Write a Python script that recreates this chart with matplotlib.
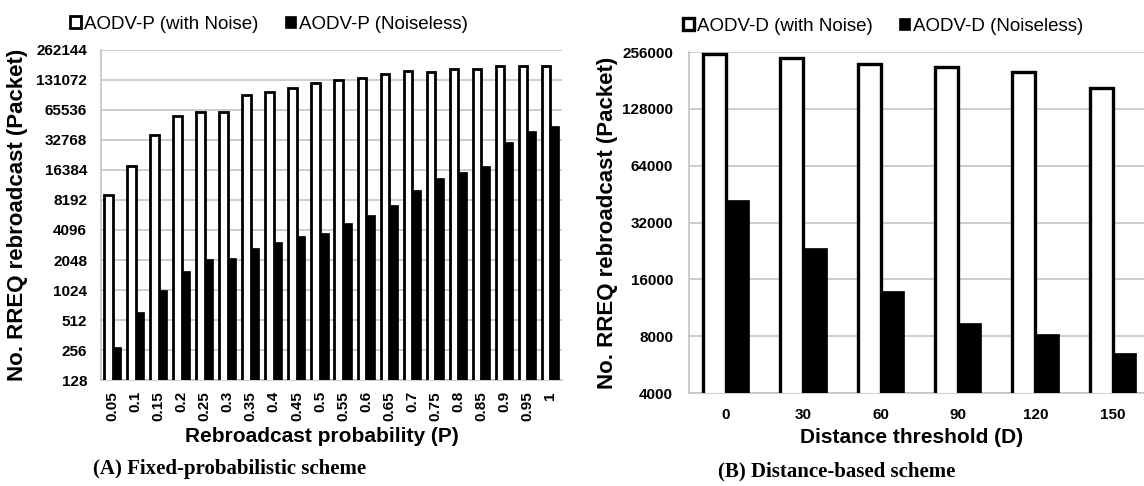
import numpy as np
import matplotlib
matplotlib.use('Agg')
import matplotlib.pyplot as plt
from matplotlib.ticker import FixedLocator, FixedFormatter, NullLocator

plt.rcParams['font.family'] = ['Liberation Sans', 'DejaVu Sans']

# panel A: fixed-probabilistic scheme
probs = ['0.05', '0.1', '0.15', '0.2', '0.25', '0.3', '0.35', '0.4', '0.45', '0.5',
         '0.55', '0.6', '0.65', '0.7', '0.75', '0.8', '0.85', '0.9', '0.95', '1']
p_noise = [9200, 18000, 36800, 56600, 62800, 62800, 92700, 98700, 109000, 122000,
           130000, 137000, 150000, 160000, 158000, 170000, 169000, 180000, 181000, 181000]
p_clean = [272, 612, 1024, 1575, 2090, 2160, 2700, 3130, 3540, 3820,
           4810, 5790, 7300, 10400, 13700, 15500, 18000, 31000, 40700, 45600]
p_ticks = [128, 256, 512, 1024, 2048, 4096, 8192, 16384, 32768, 65536, 131072, 262144]

# panel B: distance-based scheme
dists = ['0', '30', '60', '90', '120', '150']
d_noise = [249000, 237000, 220000, 214000, 200000, 166000]
d_clean = [41900, 23500, 13800, 9450, 8230, 6480]
d_ticks = [4000, 8000, 16000, 32000, 64000, 128000, 256000]

grid_c = '#c0c0c0'
W, H = 1144, 486

fig = plt.figure(figsize=(W/100, H/100), dpi=100)
ax1 = fig.add_axes([101/W, 1-380/H, 461/W, 330/H])
ax2 = fig.add_axes([689/W, 1-393/H, 464/W, 341/H])


def style(ax, ticks):
    ax.set_yscale('log', base=2)
    ax.set_ylim(ticks[0], ticks[-1])
    ax.yaxis.set_major_locator(FixedLocator(ticks))
    ax.yaxis.set_major_formatter(FixedFormatter([str(t) for t in ticks]))
    ax.yaxis.set_minor_locator(NullLocator())
    ax.grid(axis='y', color=grid_c, linewidth=1.1, zorder=0)
    ax.set_axisbelow(True)
    for s in ['top', 'right']:
        ax.spines[s].set_visible(False)
    for s in ['left', 'bottom']:
        ax.spines[s].set_color(grid_c)
        ax.spines[s].set_linewidth(1.1)
    ax.tick_params(length=0, labelsize=11)
    for lab in ax.get_yticklabels() + ax.get_xticklabels():
        lab.set_fontweight('bold')


leg_kw = dict(ncol=2, frameon=False, loc='lower left', fontsize=13.5,
              handlelength=0.6, handleheight=0.6, handletextpad=0.15,
              columnspacing=1.4, borderaxespad=0.0, borderpad=0.0)

# ---- panel A
x1 = np.arange(len(probs))
w1 = 0.37
b1 = ax1.bar(x1 - w1/2, p_noise, w1, color='white', edgecolor='black', linewidth=2.0, zorder=3)
b2 = ax1.bar(x1 + w1/2, p_clean, w1, color='black', edgecolor='black', linewidth=0.5, zorder=3)
ax1.set_xlim(-0.5, len(probs) - 0.5)
ax1.set_xticks(x1)
ax1.set_xticklabels(probs, rotation=90)
style(ax1, p_ticks)
ax1.tick_params(axis='y', pad=10)
ax1.tick_params(axis='x', pad=8)
ax1.set_ylabel('No. RREQ rebroadcast (Packet)', fontsize=16, fontweight='bold')
ax1.yaxis.set_label_coords(-73/461, 0.5)
ax1.set_xlabel('Rebroadcast probability (P)', fontsize=15, fontweight='bold')
ax1.xaxis.set_label_coords(0.48, -47/330)
ax1.legend([b1, b2], ['AODV-P (with Noise)', 'AODV-P (Noiseless)'],
           bbox_to_anchor=(-31/461, 1 + 17/330), **leg_kw)

# ---- panel B
x2 = np.arange(len(dists))
w2 = 0.3
b3 = ax2.bar(x2 - w2/2, d_noise, w2, color='white', edgecolor='black', linewidth=2.4, zorder=3)
b4 = ax2.bar(x2 + w2/2, d_clean, w2, color='black', edgecolor='black', linewidth=0.5, zorder=3)
ax2.set_xlim(-0.48, len(dists) - 0.48)
ax2.set_xticks(x2)
ax2.set_xticklabels(dists)
style(ax2, d_ticks)
ax2.tick_params(axis='y', pad=11.5)
ax2.tick_params(axis='x', pad=11)
ax2.set_ylabel('No. RREQ rebroadcast (Packet)', fontsize=16, fontweight='bold')
ax2.yaxis.set_label_coords(-71/464, 0.5)
ax2.set_xlabel('Distance threshold (D)', fontsize=15, fontweight='bold')
ax2.xaxis.set_label_coords(0.48, -35/341)
ax2.legend([b3, b4], ['AODV-D (with Noise)', 'AODV-D (Noiseless)'],
           bbox_to_anchor=(-6/464, 1 + 17/341), **leg_kw)

# captions
serif = ['Liberation Serif', 'DejaVu Serif']
fig.text(230/W, 1-469/H, '(A) Fixed-probabilistic scheme', ha='center', va='center',
         fontsize=15, fontweight='bold', family=serif)
fig.text(837/W, 1-471/H, '(B) Distance-based scheme', ha='center', va='center',
         fontsize=15, fontweight='bold', family=serif)

fig.savefig('out.png', dpi=100)
